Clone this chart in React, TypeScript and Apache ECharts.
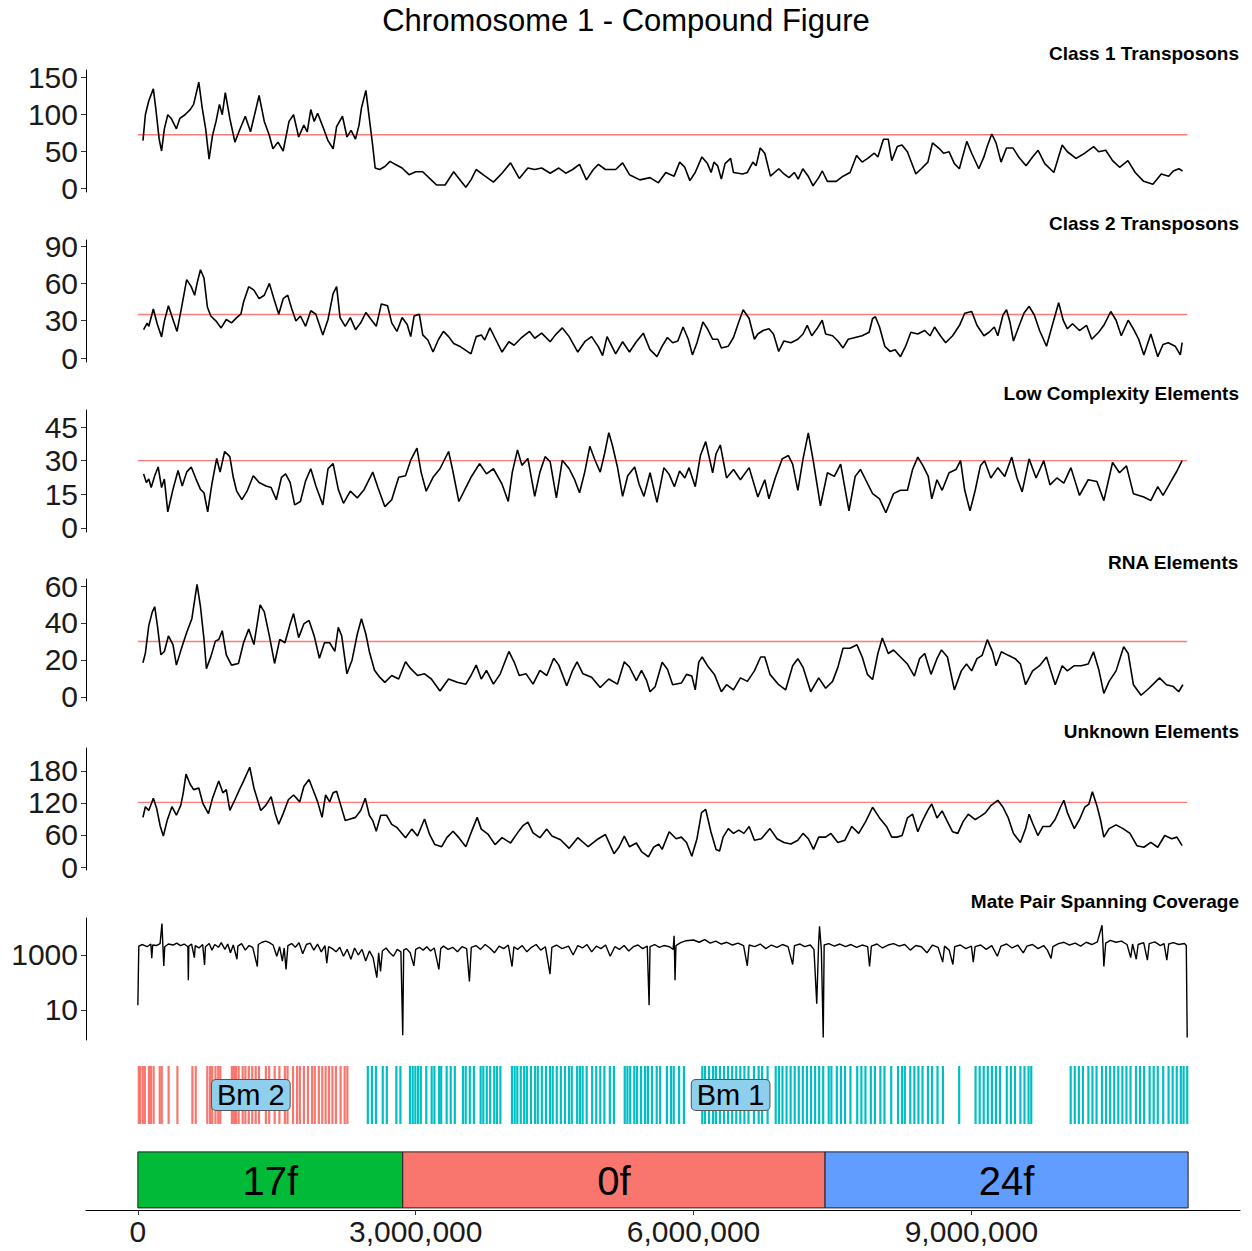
import React, { useEffect, useRef } from "react";
import * as echarts from "echarts";

const FONT = "'Liberation Sans', Arial, Helvetica, sans-serif";

const chartTitle = "Chromosome 1 - Compound Figure";
const panelTitles = [
  "Class 1 Transposons",
  "Class 2 Transposons",
  "Low Complexity Elements",
  "RNA Elements",
  "Unknown Elements",
  "Mate Pair Spanning Coverage",
];

// [position (Mb), value]
const class1: number[][] = [
  [0.055,64],[0.081,99],[0.118,118],[0.167,134],[0.193,108],[0.23,66],[0.256,50],[0.286,80],[0.323,99],[0.36,94],
  [0.416,80],[0.453,94],[0.509,99],[0.565,106],[0.602,113],[0.658,143],[0.695,108],[0.732,80],[0.769,39],[0.806,71],
  [0.844,90],[0.881,113],[0.911,99],[0.944,129],[0.993,94],[1.048,62],[1.104,80],[1.16,97],[1.216,76],[1.26,99],
  [1.309,125],[1.365,90],[1.42,71],[1.458,53],[1.513,62],[1.569,50],[1.632,90],[1.681,99],[1.736,69],[1.792,85],
  [1.829,76],[1.867,106],[1.904,90],[1.941,101],[1.997,83],[2.053,64],[2.108,53],[2.146,83],[2.209,97],[2.258,69],
  [2.302,78],[2.35,66],[2.388,85],[2.414,108],[2.462,132],[2.499,94],[2.536,57],[2.562,27],[2.611,25],[2.667,29],
  [2.723,36],[2.778,32],[2.853,27],[2.927,18],[3.001,22],[3.076,22],[3.15,13],[3.225,4],[3.317,4],[3.41,22],
  [3.466,13],[3.541,1],[3.597,11],[3.653,25],[3.727,18],[3.839,8],[3.932,20],[4.024,34],[4.118,13],[4.211,27],
  [4.285,25],[4.36,27],[4.452,20],[4.545,27],[4.62,20],[4.694,25],[4.769,32],[4.843,11],[4.918,25],[4.973,32],
  [5.048,25],[5.159,25],[5.234,34],[5.308,18],[5.42,11],[5.53,14],[5.62,7],[5.7,21],[5.79,16],[5.85,35],
  [5.905,28],[5.96,10],[6.018,21],[6.09,42],[6.15,33],[6.19,21],[6.22,35],[6.26,30],[6.3,12],[6.34,33],
  [6.4,40],[6.431,21],[6.53,19],[6.581,21],[6.64,35],[6.675,30],[6.72,54],[6.769,47],[6.83,16],[6.92,26],
  [6.976,19],[7.03,14],[7.088,21],[7.13,12],[7.18,26],[7.238,16],[7.29,3],[7.351,14],[7.39,23],[7.445,9],
  [7.54,9],[7.614,16],[7.69,21],[7.76,44],[7.82,35],[7.88,40],[7.952,47],[7.99,42],[8.05,66],[8.102,66],
  [8.14,37],[8.2,56],[8.25,58],[8.309,49],[8.4,19],[8.459,26],[8.53,35],[8.58,61],[8.647,54],[8.7,47],
  [8.759,49],[8.816,33],[8.87,26],[8.95,63],[9.003,47],[9.08,26],[9.135,42],[9.17,56],[9.22,73],[9.266,61],
  [9.32,35],[9.379,54],[9.45,54],[9.51,42],[9.59,30],[9.66,42],[9.72,51],[9.792,33],[9.89,21],[9.98,58],
  [10.036,49],[10.13,40],[10.224,47],[10.32,56],[10.374,49],[10.45,51],[10.524,37],[10.6,28],[10.69,37],[10.768,21],
  [10.86,9],[10.96,5],[11.05,19],[11.13,16],[11.18,23],[11.24,26],[11.28,23],
];

const class2: number[][] = [
  [0.062,22.8],[0.1,28],[0.118,25.5],[0.167,39.4],[0.211,27],[0.256,17],[0.286,29.7],[0.33,42],[0.379,31],[0.423,21.4],
  [0.472,40.8],[0.527,63],[0.576,57.4],[0.613,50.5],[0.639,60],[0.676,71],[0.714,64.3],[0.751,40.8],[0.788,33.8],[0.844,29.7],
  [0.899,24.2],[0.955,31],[1.011,28.3],[1.067,32.5],[1.112,35.2],[1.141,45],[1.197,57.4],[1.253,54.6],[1.309,47.7],[1.365,50.5],
  [1.42,60],[1.469,47.7],[1.521,35.2],[1.569,47.7],[1.618,50.5],[1.662,39.4],[1.707,29.7],[1.755,33.8],[1.811,25.5],[1.867,38],
  [1.922,35.2],[1.997,18.6],[2.053,31],[2.108,51.8],[2.146,57.4],[2.183,32.5],[2.239,25.5],[2.294,32.5],[2.35,22.8],[2.406,28.3],
  [2.462,36.6],[2.518,31],[2.574,25.5],[2.629,43.5],[2.696,42],[2.741,28.3],[2.797,21.4],[2.853,32.5],[2.908,27],[2.946,17.2],
  [2.983,33.8],[3.039,35.2],[3.076,18.6],[3.131,14.5],[3.187,4.8],[3.243,14.5],[3.299,21.4],[3.355,17.2],[3.41,11.7],[3.485,9],
  [3.597,3.4],[3.653,17.2],[3.708,18.6],[3.745,14.5],[3.801,24.2],[3.857,15.9],[3.932,4.8],[4.006,13.1],[4.062,10.3],[4.136,15.9],
  [4.229,21.4],[4.285,15.9],[4.36,20],[4.452,13.1],[4.508,18.6],[4.583,24.2],[4.657,17.2],[4.75,4.8],[4.825,13.1],[4.899,17.2],
  [4.973,9],[5.018,2],[5.066,17.2],[5.159,3.4],[5.234,13.1],[5.308,4.8],[5.382,13.1],[5.457,20],[5.53,6.7],[5.605,1.1],
  [5.661,9.5],[5.718,16.5],[5.774,12.3],[5.83,13.7],[5.887,24.9],[5.943,15.1],[5.988,2.5],[6.037,12.3],[6.101,29],[6.15,23.5],
  [6.206,15.1],[6.262,15.1],[6.3,8.1],[6.375,9.5],[6.431,16.5],[6.488,29],[6.536,38.8],[6.6,31.8],[6.657,15.1],[6.694,19.3],
  [6.75,22.1],[6.814,23.5],[6.863,19.3],[6.919,5.3],[6.976,13.7],[7.051,12.3],[7.126,15.1],[7.182,19.3],[7.227,26.3],[7.276,17.9],
  [7.332,23.5],[7.389,30.4],[7.426,19.3],[7.501,17.9],[7.558,13.7],[7.614,8.1],[7.67,15.1],[7.745,16.5],[7.82,17.9],[7.896,20.7],
  [7.933,31.8],[7.963,33.2],[8.008,24.9],[8.065,9.5],[8.121,5.3],[8.177,6.7],[8.234,1.1],[8.29,9.5],[8.346,20.7],[8.421,19.3],
  [8.496,22.1],[8.553,17.9],[8.602,24.9],[8.665,17.9],[8.722,12.3],[8.797,17.9],[8.872,26.3],[8.928,36],[9.003,37.4],[9.06,26.3],
  [9.135,17.9],[9.191,20.7],[9.247,24.9],[9.285,17.9],[9.341,34.6],[9.379,38.8],[9.416,29],[9.454,13.7],[9.51,24.9],[9.567,36],
  [9.623,41.6],[9.679,34.6],[9.736,22.1],[9.811,9.5],[9.878,27.6],[9.942,44.4],[9.991,30.4],[10.036,23.5],[10.092,27.6],[10.167,22.1],
  [10.243,26.3],[10.299,15.1],[10.374,20.7],[10.43,26.3],[10.505,37.4],[10.562,30.4],[10.618,17.9],[10.693,30.4],[10.749,23.5],[10.806,15.1],
  [10.862,2.5],[10.937,19.3],[11.012,1.1],[11.069,10.9],[11.125,12.3],[11.2,9.5],[11.256,2.5],[11.275,12.3],
];

const lowComplexity: number[][] = [
  [0.062,24.1],[0.092,20.3],[0.118,21.8],[0.144,18],[0.182,23.3],[0.219,27.2],[0.256,18],[0.286,21.8],[0.323,7.2],[0.379,17.2],
  [0.434,25.6],[0.479,18.7],[0.527,24.9],[0.576,27.2],[0.628,21.8],[0.676,17.2],[0.714,15.7],[0.754,7.2],[0.799,19.5],[0.851,31],
  [0.888,24.9],[0.937,34.1],[0.993,31.8],[1.03,22.6],[1.067,16.4],[1.123,12.6],[1.179,16.4],[1.246,23.3],[1.309,20.3],[1.383,18.7],
  [1.439,18],[1.495,12.6],[1.551,22.6],[1.595,24.1],[1.644,20.3],[1.693,10.3],[1.755,11.8],[1.811,21],[1.867,26.4],[1.922,18.7],
  [1.997,10.3],[2.053,26.4],[2.108,28.7],[2.164,17.2],[2.22,11],[2.294,16.4],[2.369,13.4],[2.444,17.2],[2.536,24.9],[2.592,18],
  [2.667,9.5],[2.741,12.6],[2.816,22.6],[2.89,23.3],[2.946,30.2],[3.013,35.6],[3.058,24.9],[3.113,16.4],[3.187,22.6],[3.262,26.4],
  [3.355,34.1],[3.392,27.2],[3.466,11.8],[3.541,18],[3.597,22.6],[3.69,28.7],[3.764,24.1],[3.839,26.4],[3.932,19.5],[3.999,11.8],
  [4.043,24.9],[4.099,34.8],[4.147,27.9],[4.211,31],[4.285,14.1],[4.341,24.9],[4.397,31.8],[4.452,29.5],[4.519,13.4],[4.583,30.2],
  [4.657,26.4],[4.713,21.8],[4.769,15.7],[4.825,24.9],[4.88,36.4],[4.936,30.2],[4.992,24.9],[5.04,33.3],[5.085,42.5],[5.122,37.1],
  [5.178,27.2],[5.234,14.1],[5.289,23.3],[5.364,27.2],[5.412,19.5],[5.464,14.1],[5.53,24.6],[5.605,11.4],[5.68,26.9],[5.737,23.8],
  [5.793,18.4],[5.849,25.4],[5.906,22.3],[5.951,26.9],[6.018,18.4],[6.074,32.3],[6.131,38.5],[6.206,24.6],[6.243,33.1],[6.289,37],
  [6.356,22.3],[6.431,26.1],[6.506,21.5],[6.6,26.9],[6.694,13.8],[6.769,21.5],[6.814,13],[6.882,22.3],[6.957,30.8],[7.024,32.3],
  [7.07,28.5],[7.126,16.8],[7.182,30.8],[7.239,42.4],[7.295,29.2],[7.37,9.9],[7.445,24.6],[7.52,23],[7.588,28.5],[7.678,7.6],
  [7.745,23],[7.802,26.1],[7.858,21.5],[7.933,15.3],[8.008,13],[8.076,6.8],[8.159,15.3],[8.234,16.8],[8.309,16.8],[8.365,26.1],
  [8.421,31.6],[8.478,27.7],[8.534,23],[8.572,13],[8.628,21.5],[8.684,16.8],[8.759,24.6],[8.834,26.1],[8.883,30],[8.928,16.8],
  [8.985,7.6],[9.041,16.8],[9.097,27.7],[9.142,30],[9.21,22.3],[9.285,26.9],[9.36,23],[9.435,31.6],[9.492,22.3],[9.548,16.1],
  [9.623,30.8],[9.698,22.3],[9.781,30],[9.848,19.2],[9.923,22.3],[9.998,20],[10.074,26.9],[10.167,14.5],[10.261,21.5],[10.355,20.7],
  [10.43,12.2],[10.524,29.2],[10.599,24.6],[10.674,27.7],[10.749,15.3],[10.862,13.8],[10.937,12.2],[11.012,18.4],[11.069,14.5],[11.144,20],
  [11.219,25.4],[11.275,30],
];

const rnaElements: number[][] = [
  [0.055,18.5],[0.081,23.7],[0.118,38.6],[0.156,46],[0.182,48.8],[0.211,38.6],[0.249,22.8],[0.286,24.6],[0.33,33],[0.379,28.3],
  [0.416,17.2],[0.472,26.5],[0.527,34.9],[0.583,42.3],[0.639,60.9],[0.676,48.8],[0.714,31.1],[0.74,15.3],[0.788,21.8],[0.837,30.2],
  [0.874,31.1],[0.911,35.8],[0.955,22.8],[1.011,17.2],[1.086,18.1],[1.141,29.3],[1.197,36.7],[1.253,28.3],[1.32,49.8],[1.365,46],
  [1.42,33],[1.476,18.1],[1.532,31.1],[1.588,29.3],[1.644,39.5],[1.681,45.1],[1.736,32.1],[1.792,39.5],[1.848,41.4],[1.904,33],
  [1.96,20.9],[2.015,29.3],[2.071,29.3],[2.127,24.6],[2.164,37.7],[2.201,33],[2.257,12.5],[2.313,20],[2.369,33.9],[2.414,42.3],
  [2.462,33.9],[2.499,24.6],[2.555,14.4],[2.611,10.7],[2.667,7.9],[2.741,11.6],[2.816,9.7],[2.89,19],[2.946,15.3],[3.02,11.6],
  [3.095,12.5],[3.169,9.7],[3.262,3.2],[3.355,9.7],[3.448,7.9],[3.541,6.9],[3.597,11.6],[3.653,17.2],[3.708,9.7],[3.764,14.4],
  [3.839,6.9],[3.913,12.5],[4.006,24.6],[4.062,19],[4.118,11.6],[4.192,12.5],[4.267,6.9],[4.341,14.4],[4.415,11.6],[4.49,20.9],
  [4.545,17.2],[4.631,6],[4.694,14.4],[4.742,19],[4.806,12.5],[4.899,10.7],[4.992,5.1],[5.085,9.7],[5.178,6.9],[5.252,19],
  [5.308,16.2],[5.382,8.8],[5.438,14.4],[5.494,8.8],[5.53,2.8],[5.586,5.6],[5.661,18.8],[5.718,15],[5.774,6.6],[5.868,7.5],
  [5.924,12.2],[5.981,11.3],[6.018,3.8],[6.056,18.8],[6.093,21.6],[6.15,16.9],[6.225,12.2],[6.3,2.8],[6.356,6.6],[6.431,3.8],
  [6.506,10.3],[6.581,8.4],[6.657,14.1],[6.724,21.6],[6.769,21.6],[6.825,12.2],[6.919,6.6],[6.994,3.8],[7.07,16.9],[7.126,20.7],
  [7.182,16],[7.265,2.8],[7.351,10.3],[7.426,4.7],[7.501,8.4],[7.558,16],[7.614,26.3],[7.689,26.3],[7.764,28.2],[7.821,21.6],
  [7.877,12.2],[7.933,9.4],[7.99,23.5],[8.038,31.9],[8.102,23.5],[8.159,25.4],[8.234,21.6],[8.309,17.8],[8.384,11.3],[8.44,20.7],
  [8.496,23.5],[8.564,12.2],[8.628,20.7],[8.677,25.4],[8.741,21.6],[8.816,3.8],[8.891,14.1],[8.947,17.8],[9.003,14.1],[9.06,20.7],
  [9.116,22.5],[9.172,31],[9.229,24.4],[9.266,16.9],[9.323,24.4],[9.398,22.5],[9.473,20.7],[9.529,17.8],[9.585,6.6],[9.661,14.1],
  [9.736,16.9],[9.811,21.6],[9.905,6.6],[9.98,16.9],[10.036,14.1],[10.111,16.9],[10.186,16.9],[10.261,17.8],[10.318,24.4],[10.374,15],
  [10.43,1.9],[10.487,8.4],[10.562,14.1],[10.644,27.2],[10.693,23.5],[10.749,6.6],[10.832,0.9],[10.918,4.7],[11.031,10.3],[11.106,6.6],
  [11.181,5.6],[11.238,2.8],[11.283,6.6],
];

const unknownElements: number[][] = [
  [0.055,93],[0.081,113],[0.118,106],[0.167,129],[0.204,109],[0.241,77],[0.275,58],[0.316,87],[0.368,113],[0.416,97],
  [0.464,116],[0.49,139],[0.52,174],[0.565,155],[0.602,145],[0.658,148],[0.702,119],[0.762,100],[0.806,129],[0.873,161],
  [0.918,139],[0.955,145],[0.993,106],[1.048,126],[1.097,145],[1.141,161],[1.208,187],[1.253,148],[1.327,106],[1.383,116],
  [1.439,132],[1.483,100],[1.521,80],[1.569,100],[1.625,126],[1.681,135],[1.748,122],[1.792,151],[1.848,164],[1.904,139],
  [1.941,122],[1.989,93],[2.027,135],[2.071,122],[2.108,139],[2.146,142],[2.19,116],[2.239,87],[2.294,90],[2.35,93],
  [2.406,106],[2.455,129],[2.499,97],[2.536,87],[2.574,67],[2.622,97],[2.685,97],[2.741,80],[2.797,74],[2.89,55],
  [2.957,71],[3.02,58],[3.095,90],[3.15,61],[3.206,42],[3.281,38],[3.336,55],[3.403,67],[3.466,55],[3.541,38],
  [3.597,64],[3.664,93],[3.708,71],[3.783,61],[3.857,42],[3.932,55],[4.024,45],[4.099,64],[4.155,77],[4.211,84],
  [4.267,64],[4.341,55],[4.415,71],[4.471,58],[4.564,51],[4.657,35],[4.75,55],[4.862,38],[4.955,51],[5.048,61],
  [5.141,25],[5.197,38],[5.252,58],[5.308,38],[5.382,45],[5.438,29],[5.513,19],[5.568,37],[5.624,43],[5.661,33],
  [5.737,66],[5.812,53],[5.868,56],[5.924,46],[5.981,20],[6.037,53],[6.086,102],[6.131,108],[6.187,66],[6.243,33],
  [6.281,30],[6.319,56],[6.375,72],[6.431,63],[6.488,69],[6.544,63],[6.6,76],[6.657,50],[6.732,53],[6.825,72],
  [6.901,53],[6.976,46],[7.051,43],[7.126,50],[7.182,63],[7.239,53],[7.295,33],[7.351,56],[7.426,56],[7.483,63],
  [7.558,46],[7.633,50],[7.708,76],[7.783,63],[7.858,85],[7.933,112],[8.008,92],[8.083,76],[8.14,56],[8.196,56],
  [8.252,59],[8.309,92],[8.365,99],[8.421,66],[8.478,89],[8.534,108],[8.572,118],[8.628,92],[8.684,105],[8.741,85],
  [8.797,66],[8.853,63],[8.91,85],[8.966,99],[9.041,89],[9.097,95],[9.154,102],[9.21,115],[9.285,125],[9.341,112],
  [9.398,92],[9.454,63],[9.529,46],[9.585,72],[9.623,99],[9.661,82],[9.717,59],[9.773,76],[9.848,76],[9.904,89],
  [9.961,112],[9.998,125],[10.036,102],[10.111,72],[10.167,89],[10.224,112],[10.269,118],[10.306,141],[10.355,115],[10.393,89],
  [10.43,56],[10.487,72],[10.562,79],[10.637,72],[10.712,63],[10.787,40],[10.862,37],[10.937,46],[11.012,37],[11.087,59],
  [11.163,53],[11.219,56],[11.275,40],
];

const coverage: number[][] = [
  [0,15],[0.01,2100],[0.05,2400],[0.1,2000],[0.14,2500],[0.15,760],[0.16,2300],[0.2,2200],[0.24,2600],[0.26,14000],
  [0.27,2200],[0.28,400],[0.29,2000],[0.33,2500],[0.38,2300],[0.42,2700],[0.46,2200],[0.5,2500],[0.54,2000],[0.545,120],
  [0.55,2100],[0.58,2500],[0.61,800],[0.62,2200],[0.66,1800],[0.7,2400],[0.72,430],[0.73,2000],[0.77,2600],[0.8,1500],
  [0.83,2400],[0.87,1900],[0.9,2800],[0.94,1600],[0.97,2500],[1.0,1200],[1.03,2300],[1.07,700],[1.08,2100],[1.12,2600],
  [1.16,1500],[1.2,2200],[1.24,1900],[1.29,380],[1.3,2400],[1.34,2900],[1.38,3200],[1.42,2800],[1.46,2300],[1.5,900],
  [1.53,2000],[1.56,600],[1.58,1800],[1.6,300],[1.62,2200],[1.66,2600],[1.7,1900],[1.74,2800],[1.78,1100],[1.82,2400],
  [1.86,2700],[1.9,1500],[1.94,2500],[1.98,1300],[2.02,2200],[2.04,500],[2.06,2000],[2.1,1700],[2.14,1300],[2.18,1900],
  [2.22,900],[2.26,1600],[2.3,700],[2.34,1800],[2.38,1000],[2.42,1600],[2.46,600],[2.5,1400],[2.54,800],[2.58,150],
  [2.6,1200],[2.62,250],[2.64,1400],[2.68,1800],[2.72,1200],[2.76,900],[2.8,1600],[2.84,1300],[2.86,1.2],[2.87,1500],
  [2.9,1700],[2.94,1200],[2.98,400],[3.0,1600],[3.04,1900],[3.08,1500],[3.12,2000],[3.16,1400],[3.2,1800],[3.25,300],
  [3.27,1700],[3.3,2100],[3.35,1600],[3.4,1900],[3.45,1300],[3.5,2000],[3.55,1700],[3.58,110],[3.6,1900],[3.65,2200],
  [3.7,1600],[3.75,2400],[3.8,1800],[3.85,1200],[3.9,2100],[3.95,1700],[4.0,2300],[4.04,380],[4.06,2000],[4.1,1600],
  [4.15,2200],[4.2,1300],[4.25,1900],[4.3,2400],[4.35,1500],[4.4,2000],[4.45,200],[4.47,1900],[4.52,2300],[4.58,1700],
  [4.65,2100],[4.7,1000],[4.75,2200],[4.8,1800],[4.85,2400],[4.9,1300],[4.95,2100],[5.0,1700],[5.05,2300],[5.1,900],
  [5.15,2000],[5.2,1600],[5.25,2200],[5.3,1400],[5.35,2000],[5.4,2300],[5.45,1700],[5.5,2100],[5.52,15],[5.53,2000],
  [5.58,2400],[5.63,1900],[5.68,2200],[5.74,2000],[5.78,1600],[5.79,5000],[5.8,120],[5.81,2200],[5.86,2800],[5.92,3300],
  [6.0,3500],[6.06,2900],[6.12,3600],[6.18,2700],[6.24,3200],[6.3,2500],[6.36,2900],[6.42,2300],[6.48,2700],[6.54,2200],
  [6.58,400],[6.6,2300],[6.66,2000],[6.72,2500],[6.78,1700],[6.84,2300],[6.9,1900],[6.96,2400],[7.02,2000],[7.07,450],
  [7.09,2200],[7.15,2500],[7.2,2000],[7.26,2300],[7.3,1600],[7.33,17],[7.35,2500],[7.36,11000],[7.38,1500],[7.4,1],
  [7.41,2300],[7.46,2600],[7.52,2100],[7.58,2500],[7.64,2000],[7.7,2400],[7.76,1900],[7.82,2300],[7.88,2000],[7.9,380],
  [7.92,2100],[7.98,2500],[8.04,1800],[8.1,2300],[8.16,2600],[8.22,2100],[8.28,2400],[8.34,1500],[8.4,2200],[8.46,2000],
  [8.52,1200],[8.58,2300],[8.64,1900],[8.69,550],[8.71,2100],[8.76,1500],[8.8,450],[8.82,2000],[8.88,2300],[8.94,1700],
  [9.0,2100],[9.02,550],[9.04,2000],[9.1,2300],[9.16,1600],[9.22,2200],[9.28,900],[9.32,2100],[9.38,2500],[9.44,1800],
  [9.5,2300],[9.56,1200],[9.6,2100],[9.66,2400],[9.72,1700],[9.78,2200],[9.82,1500],[9.86,750],[9.88,2000],[9.94,2600],
  [10.0,2900],[10.06,2300],[10.12,2700],[10.18,2100],[10.24,2900],[10.3,2400],[10.36,3000],[10.41,12000],[10.42,2600],[10.43,380],
  [10.45,2700],[10.5,3400],[10.56,2900],[10.62,3200],[10.68,2400],[10.72,800],[10.74,2500],[10.78,700],[10.8,2400],[10.86,2800],
  [10.9,650],[10.92,2600],[10.98,3000],[11.04,2200],[11.08,2600],[11.11,650],[11.13,2500],[11.18,2800],[11.24,2400],[11.3,2600],
  [11.32,2200],[11.33,1],
];

const panelMeans = [72, 35, 30, 30, 121];
const meanLineEnd = 11.33; // Mb
const yTickValues = [
  [0, 50, 100, 150],
  [0, 30, 60, 90],
  [0, 15, 30, 45],
  [0, 20, 40, 60],
  [0, 60, 120, 180],
];
const coverageTicks = [10, 1000];
const xTickValues = [0, 3000000, 6000000, 9000000];

// barcode markers (Mb)
const bm2Markers = [
  0.01,0.024,0.053,0.075,0.119,0.141,0.17,0.236,0.258,0.332,0.427,0.589,0.625,0.75,0.78,0.802,0.838,0.868,0.89,
  1.015,1.037,1.059,1.088,1.132,1.161,1.198,1.235,1.272,1.308,1.382,1.418,1.477,1.528,1.587,1.616,1.675,1.719,1.749,
  1.793,1.837,1.881,1.91,1.954,1.991,2.027,2.064,2.101,2.138,2.189,2.233,2.262,
];
const bm1Markers = [
  2.483,2.527,2.571,2.644,2.688,2.791,2.835,2.938,2.967,2.996,3.026,3.055,3.114,3.172,3.202,3.253,3.275,3.334,3.378,3.422,
  3.51,3.54,3.584,3.628,3.701,3.73,3.767,3.804,3.848,3.877,3.914,4.039,4.068,4.097,4.134,4.171,4.2,4.244,4.288,4.318,
  4.362,4.406,4.45,4.479,4.523,4.567,4.611,4.655,4.685,4.743,4.773,4.802,4.846,4.905,4.949,4.993,5.037,5.096,5.14,5.257,
  5.286,5.316,5.36,5.389,5.433,5.477,5.507,5.551,5.602,5.639,5.712,5.756,5.786,5.844,5.896,6.094,6.123,6.167,6.211,6.241,
  6.285,6.329,6.373,6.417,6.461,6.505,6.549,6.593,6.652,6.703,6.74,6.799,6.887,6.923,6.96,7.004,7.048,7.092,7.136,7.18,
  7.224,7.268,7.312,7.356,7.4,7.459,7.488,7.547,7.591,7.635,7.694,7.767,7.812,7.856,7.914,7.958,8.017,8.061,8.134,8.208,
  8.252,8.281,8.34,8.384,8.428,8.472,8.531,8.575,8.634,8.692,8.868,9.045,9.089,9.133,9.177,9.221,9.265,9.309,9.382,9.426,
  9.47,9.529,9.573,9.617,9.646,10.072,10.116,10.16,10.204,10.263,10.307,10.351,10.41,10.454,10.498,10.542,10.586,10.63,10.674,10.718,
  10.777,10.821,10.865,10.924,10.968,11.012,11.071,11.129,11.173,11.217,11.261,11.291,11.33,
];
const bmLabelNames = ["Bm 2", "Bm 1"];
const bmLabelPositions = [1.22, 6.4]; // Mb

const blockNames = ["17f", "0f", "24f"];
const blockStarts = [0, 2.86, 7.42]; // Mb
const blockEnds = [2.86, 7.42, 11.34]; // Mb

// ---------- layout / style ----------
const MB = 1000000;
const X_MIN = -560000;
const X_MAX = 11900000;
const GRID_LEFT = 86;
const GRID_RIGHT = 12;
const panelTops = [70, 240, 410, 579, 748, 918];
const PANEL_H = 122;
const panelYRanges = [
  [-5.4, 159.5],
  [-3.2, 94.9],
  [-1.8, 52.6],
  [-2.2, 63.8],
  [-5.6, 223],
];
const coverageRange = [0.81, 22100];
const blockColors = ["#00BA38", "#F8766D", "#619CFF"];
const BM2_COLOR = "#F8766D";
const BM1_COLOR = "#00BFC4";
const AXIS_TEXT = "#1a1a1a";
const AXIS_FONT = 30;
const MEAN_COLOR = "#FF7A7A";

export default function App() {
  const ref = useRef<HTMLDivElement>(null);

  useEffect(() => {
    document.body.style.margin = "0";
    if (!ref.current) return;
    const chart = echarts.init(ref.current, undefined, { renderer: "svg" });

    const seriesData = [class1, class2, lowComplexity, rnaElements, unknownElements];

    const grids: any[] = [];
    const xAxes: any[] = [];
    const yAxes: any[] = [];
    const series: any[] = [];
    const titles: any[] = [
      {
        text: chartTitle,
        left: "center",
        top: 5,
        padding: 0,
        textStyle: { fontFamily: FONT, fontSize: 31, fontWeight: "normal", color: "#000" },
      },
    ];

    const hiddenX = (gi: number) => ({
      type: "value",
      gridIndex: gi,
      min: X_MIN,
      max: X_MAX,
      show: false,
      splitLine: { show: false },
    });

    for (let i = 0; i < 6; i++) {
      grids.push({ left: GRID_LEFT, right: GRID_RIGHT, top: panelTops[i], height: PANEL_H });
      xAxes.push(hiddenX(i));
      titles.push({
        text: panelTitles[i],
        right: 13,
        top: panelTops[i] - 26,
        padding: 0,
        textStyle: { fontFamily: FONT, fontSize: 19, fontWeight: "bold", color: "#000" },
      });
    }

    const yAxisCommon = (ticks: number[]) => ({
      axisLine: { show: true, onZero: false, lineStyle: { color: "#000", width: 1 } },
      axisTick: { show: true, length: 5, customValues: ticks, lineStyle: { color: "#333" } },
      splitLine: { show: false },
    });

    for (let i = 0; i < 5; i++) {
      yAxes.push({
        type: "value",
        gridIndex: i,
        min: panelYRanges[i][0],
        max: panelYRanges[i][1],
        ...yAxisCommon(yTickValues[i]),
        axisLabel: {
          customValues: yTickValues[i],
          fontFamily: FONT,
          fontSize: AXIS_FONT,
          color: AXIS_TEXT,
          margin: 8,
        },
      });
      series.push({
        type: "line",
        xAxisIndex: i,
        yAxisIndex: i,
        data: [
          [0, panelMeans[i]],
          [meanLineEnd * MB, panelMeans[i]],
        ],
        showSymbol: false,
        silent: true,
        lineStyle: { color: MEAN_COLOR, width: 1.3 },
        z: 1,
      });
      series.push({
        type: "line",
        xAxisIndex: i,
        yAxisIndex: i,
        data: seriesData[i].map((d) => [d[0] * MB, d[1]]),
        showSymbol: false,
        silent: true,
        lineStyle: { color: "#000", width: 1.6 },
        z: 2,
      });
    }

    // coverage log axis
    yAxes.push({
      type: "log",
      logBase: 10,
      gridIndex: 5,
      min: coverageRange[0],
      max: coverageRange[1],
      ...yAxisCommon(coverageTicks),
      axisLabel: {
        customValues: coverageTicks,
        fontFamily: FONT,
        fontSize: AXIS_FONT,
        color: AXIS_TEXT,
        margin: 8,
        formatter: (v: number) => (coverageTicks.indexOf(Math.round(v)) >= 0 ? String(Math.round(v)) : ""),
      },
    });
    series.push({
      type: "line",
      xAxisIndex: 5,
      yAxisIndex: 5,
      data: coverage.map((d) => [d[0] * MB, d[1]]),
      showSymbol: false,
      silent: true,
      lineStyle: { color: "#000", width: 1.4 },
    });

    // barcode grid
    grids.push({ left: GRID_LEFT, right: GRID_RIGHT, top: 1066, height: 58 });
    xAxes.push(hiddenX(6));
    yAxes.push({ type: "value", gridIndex: 6, min: 0, max: 1, show: false, splitLine: { show: false } });
    const markerRender = (color: string) => (params: any, api: any) => {
      const x = api.value(0);
      const bottom = api.coord([x, 0]);
      const top = api.coord([x, 1]);
      const w = 2.2;
      return {
        type: "rect",
        shape: { x: bottom[0] - w / 2, y: top[1], width: w, height: bottom[1] - top[1] },
        style: { fill: color },
      };
    };
    series.push({
      type: "custom",
      xAxisIndex: 6,
      yAxisIndex: 6,
      silent: true,
      renderItem: markerRender(BM2_COLOR),
      data: bm2Markers.map((p) => [p * MB, 1]),
      encode: { x: 0, y: 1 },
    });
    series.push({
      type: "custom",
      xAxisIndex: 6,
      yAxisIndex: 6,
      silent: true,
      renderItem: markerRender(BM1_COLOR),
      data: bm1Markers.map((p) => [p * MB, 1]),
      encode: { x: 0, y: 1 },
    });
    series.push({
      type: "custom",
      xAxisIndex: 6,
      yAxisIndex: 6,
      silent: true,
      z: 10,
      data: bmLabelNames.map((n, k) => [bmLabelPositions[k] * MB, 0.5, k]),
      encode: { x: 0, y: 1 },
      renderItem: (params: any, api: any) => {
        const k = api.value(2);
        const c = api.coord([api.value(0), api.value(1)]);
        return {
          type: "text",
          z2: 10,
          style: {
            text: bmLabelNames[k],
            x: c[0],
            y: c[1],
            align: "center",
            verticalAlign: "middle",
            fontFamily: FONT,
            fontSize: 29,
            fill: "#000",
            backgroundColor: "#8DCFEC",
            borderColor: "#555",
            borderWidth: 1,
            borderRadius: 4,
            padding: [1, 5, 0, 5],
          },
        };
      },
    });

    // block grid with x axis
    grids.push({ left: GRID_LEFT, right: GRID_RIGHT, top: 1140, height: 70 });
    xAxes.push({
      type: "value",
      gridIndex: 7,
      min: X_MIN,
      max: X_MAX,
      axisLine: { show: true, onZero: false, lineStyle: { color: "#000", width: 1 } },
      axisTick: { show: true, length: 5, customValues: xTickValues, lineStyle: { color: "#333" } },
      axisLabel: {
        customValues: xTickValues,
        fontFamily: FONT,
        fontSize: AXIS_FONT,
        color: AXIS_TEXT,
        margin: 6,
        formatter: (v: number) => Math.round(v).toLocaleString("en-US"),
      },
      splitLine: { show: false },
    });
    yAxes.push({ type: "value", gridIndex: 7, min: 0, max: 1, show: false, splitLine: { show: false } });
    series.push({
      type: "custom",
      xAxisIndex: 7,
      yAxisIndex: 7,
      silent: true,
      data: blockNames.map((n, k) => [blockStarts[k] * MB, blockEnds[k] * MB, k]),
      encode: { x: [0, 1] },
      renderItem: (params: any, api: any) => {
        const k = api.value(2);
        const s = api.coord([api.value(0), 0.03]);
        const e = api.coord([api.value(1), 0.83]);
        return {
          type: "group",
          children: [
            {
              type: "rect",
              shape: { x: s[0], y: e[1], width: e[0] - s[0], height: s[1] - e[1] },
              style: { fill: blockColors[k], stroke: "#222", lineWidth: 1 },
            },
            {
              type: "text",
              style: {
                text: blockNames[k],
                x: (s[0] + e[0]) / 2,
                y: (s[1] + e[1]) / 2 + 1,
                align: "center",
                verticalAlign: "middle",
                fontFamily: FONT,
                fontSize: 40,
                fill: "#000",
              },
            },
          ],
        };
      },
    });

    chart.setOption({
      animation: false,
      backgroundColor: "#fff",
      title: titles,
      grid: grids,
      xAxis: xAxes,
      yAxis: yAxes,
      series,
    });

    return () => chart.dispose();
  }, []);

  return <div ref={ref} style={{ width: 1252, height: 1251 }} />;
}
